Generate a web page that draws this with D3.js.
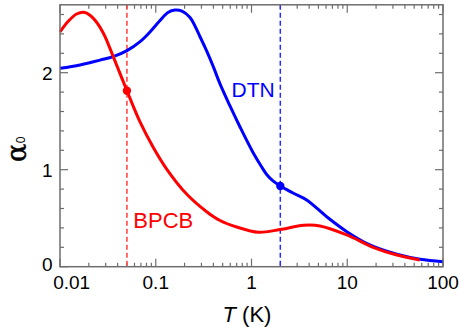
<!DOCTYPE html>
<html>
<head>
<meta charset="utf-8">
<script src="https://cdn.jsdelivr.net/npm/d3@7"></script>
<style>
  html, body { margin: 0; padding: 0; background: #fff; }
  svg { display: block; }
  text { font-family: "Liberation Sans", Arial, sans-serif; }
</style>
</head>
<body>
<svg id="chart" width="459" height="327"></svg>
<script>
// ---- data ----
const bpcbT = [0.01, 0.0122, 0.0149, 0.0182, 0.0223, 0.0283, 0.036, 0.05, 0.0685, 0.0943, 0.130, 0.21, 0.34, 0.469, 0.70, 1.18, 1.98, 3.5, 5.2, 9.9, 18.6, 33, 57];
const bpcbA = [2.42, 2.53, 2.605, 2.62, 2.56, 2.41, 2.165, 1.814, 1.492, 1.229, 1.007, 0.749, 0.567, 0.476, 0.409, 0.355, 0.383, 0.427, 0.42, 0.327, 0.20, 0.12, 0.069];
const dtnT = [0.01, 0.0162, 0.0262, 0.036, 0.05, 0.0686, 0.0871, 0.1108, 0.134, 0.159, 0.188, 0.228, 0.29, 0.340, 0.399, 0.469, 0.596, 0.759, 1.044, 1.278, 1.441, 1.677, 2.0, 2.713, 3.77, 6.1, 9.9, 17.2, 33, 57.7, 100];
const dtnA = [2.045, 2.08, 2.13, 2.165, 2.227, 2.32, 2.42, 2.538, 2.621, 2.646, 2.634, 2.569, 2.371, 2.224, 2.062, 1.884, 1.657, 1.440, 1.172, 1.028, 0.951, 0.884, 0.832, 0.760, 0.688, 0.515, 0.361, 0.224, 0.128, 0.076, 0.052];
const markerT = [0.05, 2.0];
const markerA = [1.814, 0.832];
const xMajorTicks = [0.01, 0.1, 1, 10, 100];
const xTickLabels = ["0.01", "0.1", "1", "10", "100"];
const yMajorTicks = [0, 1, 2];
const yMinorTicks = [0.2, 0.4, 0.6, 0.8, 1.2, 1.4, 1.6, 1.8, 2.2, 2.4, 2.6];
const seriesNames = ["BPCB", "DTN"];

// ---- layout ----
const L = 60, R = 443, T = 4.8, B = 266.7;
const svg = d3.select("#chart");
const x = d3.scaleLog().domain([0.01, 100]).range([L, R]);
const y = d3.scaleLinear().domain([0, 2.7]).range([B, T]);
const frameCol = "#6e6e6e";
const red = "#ff0000", blue = "#0000ff";

// minor x ticks
const xMinor = [];
for (let e = -2; e < 2; e++) for (let m = 2; m <= 9; m++) xMinor.push(m * Math.pow(10, e));

const ticks = svg.append("g").attr("stroke", frameCol).attr("stroke-width", 1.2);
xMinor.forEach(v => {
  ticks.append("line").attr("x1", x(v)).attr("x2", x(v)).attr("y1", B).attr("y2", B - 4);
  ticks.append("line").attr("x1", x(v)).attr("x2", x(v)).attr("y1", T).attr("y2", T + 4);
});
xMajorTicks.forEach(v => {
  ticks.append("line").attr("x1", x(v)).attr("x2", x(v)).attr("y1", B).attr("y2", B - 8);
  ticks.append("line").attr("x1", x(v)).attr("x2", x(v)).attr("y1", T).attr("y2", T + 8);
});
yMinorTicks.forEach(v => {
  ticks.append("line").attr("x1", L).attr("x2", L + 4).attr("y1", y(v)).attr("y2", y(v));
  ticks.append("line").attr("x1", R).attr("x2", R - 4).attr("y1", y(v)).attr("y2", y(v));
});
yMajorTicks.forEach(v => {
  ticks.append("line").attr("x1", L).attr("x2", L + 8).attr("y1", y(v)).attr("y2", y(v));
  ticks.append("line").attr("x1", R).attr("x2", R - 8).attr("y1", y(v)).attr("y2", y(v));
});

// dashed vertical markers
svg.append("line").attr("x1", x(markerT[0])).attr("x2", x(markerT[0])).attr("y1", T).attr("y2", B)
  .attr("stroke", "#ff3c3c").attr("stroke-width", 1.5).attr("stroke-dasharray", "5,3");
svg.append("line").attr("x1", x(markerT[1])).attr("x2", x(markerT[1])).attr("y1", T).attr("y2", B)
  .attr("stroke", "#2a2aff").attr("stroke-width", 1.5).attr("stroke-dasharray", "5,3");

// curves
const line = d3.line().x(d => x(d[0])).y(d => y(d[1])).curve(d3.curveCatmullRom.alpha(0.5));
svg.append("path").datum(dtnT.map((t, i) => [t, dtnA[i]]))
  .attr("d", line).attr("fill", "none").attr("stroke", blue).attr("stroke-width", 3);
svg.append("path").datum(bpcbT.map((t, i) => [t, bpcbA[i]]))
  .attr("d", line).attr("fill", "none").attr("stroke", red).attr("stroke-width", 3);

// markers
svg.append("circle").attr("cx", x(markerT[0])).attr("cy", y(markerA[0])).attr("r", 4.2).attr("fill", red);
svg.append("circle").attr("cx", x(markerT[1])).attr("cy", y(markerA[1])).attr("r", 4.2).attr("fill", blue);

// frame
svg.append("rect").attr("x", L).attr("y", T).attr("width", R - L).attr("height", B - T)
  .attr("fill", "none").attr("stroke", frameCol).attr("stroke-width", 1.5);

// tick labels
const xOff = [11.7, 0, 0, 0, 0];
xMajorTicks.forEach((v, i) => {
  svg.append("text").attr("x", x(v) + xOff[i]).attr("y", 288.5).attr("text-anchor", "middle")
    .attr("font-size", 19).attr("fill", "#000").text(xTickLabels[i]);
});
yMajorTicks.forEach(v => {
  svg.append("text").attr("x", 52.5).attr("y", y(v) + (v === 0 ? 4.5 : 6.8)).attr("text-anchor", "end")
    .attr("font-size", 19).attr("fill", "#000").text(String(v));
});

// axis titles
const xt = svg.append("text").attr("x", 247).attr("y", 322).attr("text-anchor", "middle")
  .attr("font-size", 22).attr("fill", "#000");
xt.append("tspan").attr("font-style", "italic").text("T");
xt.append("tspan").text(" (K)");

const yt = svg.append("text").attr("transform", "translate(26,162) rotate(-90)")
  .attr("text-anchor", "start").attr("fill", "#000");
yt.append("tspan").attr("font-family", "DejaVu Serif, serif").attr("font-size", 27)
  .attr("stroke", "#000").attr("stroke-width", 0.5).text("α");
yt.append("tspan").attr("font-size", 12).attr("dx", 0.5).attr("dy", -1.5).text("0");

// series labels
svg.append("text").attr("x", 231.5).attr("y", 97.3).attr("font-size", 21).attr("fill", blue).text(seriesNames[1]);
svg.append("text").attr("x", 133.3).attr("y", 228.3).attr("font-size", 22).attr("fill", red).text(seriesNames[0]);
</script>
</body>
</html>
